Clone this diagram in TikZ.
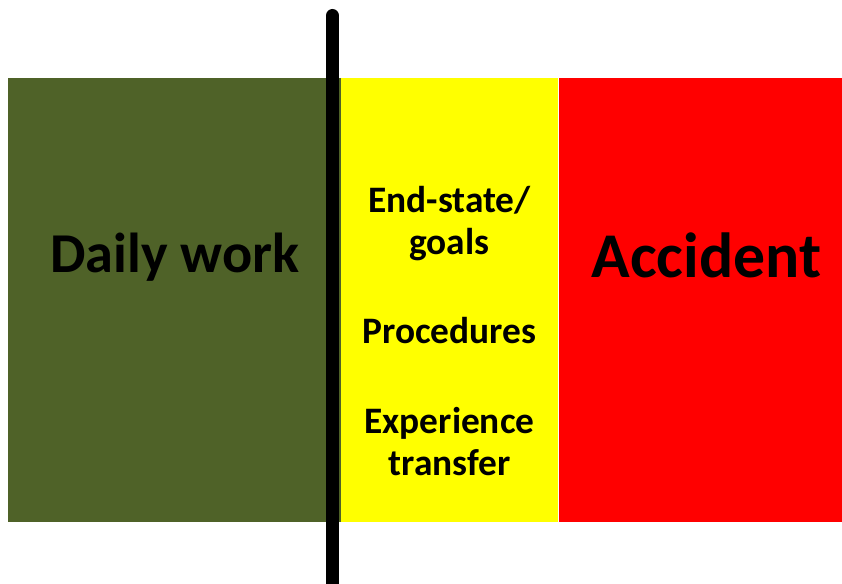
\documentclass[tikz,border=0pt]{standalone}
\usepackage{fontspec}
\setmainfont{Carlito}
\definecolor{olivegreen}{HTML}{4F6228}
\definecolor{pureyellow}{HTML}{FFFF00}
\definecolor{purered}{HTML}{FF0000}
\begin{document}
\begin{tikzpicture}[x=1bp,y=-1bp,
  bigtext/.style={font=\fontsize{#1}{#1}\selectfont\bfseries, text=black, inner sep=0pt, anchor=base},
  midtext/.style={font=\fontsize{37.5}{42}\selectfont\bfseries, text=black, inner sep=0pt, align=center, anchor=base}]
\useasboundingbox (0,0) rectangle (842,584);
\fill[olivegreen] (8,78) rectangle (341,522);
\fill[pureyellow] (341,78) rectangle (558,522);
\fill[purered] (559,78) rectangle (842,522);
\node[bigtext=56.5] (daily) at (175,272) {Daily work};
\node[bigtext=64] (acc) at (706.5,277) {Accident};
\node[midtext] (goals) at (449.5,213) {End-state/};
\node[midtext] (goals2) at (449.5,254) {goals};
\node[midtext] (proc) at (449.5,343) {Procedures};
\node[midtext] (exp) at (449.5,433) {Experience};
\node[midtext] (exp2) at (449.5,475) {transfer};
\coordinate (top) at (332.5,15.5);
\coordinate (bot) at (332.5,600);
\draw[line width=13bp, line cap=round] (top) -- (bot);
\end{tikzpicture}
\end{document}
